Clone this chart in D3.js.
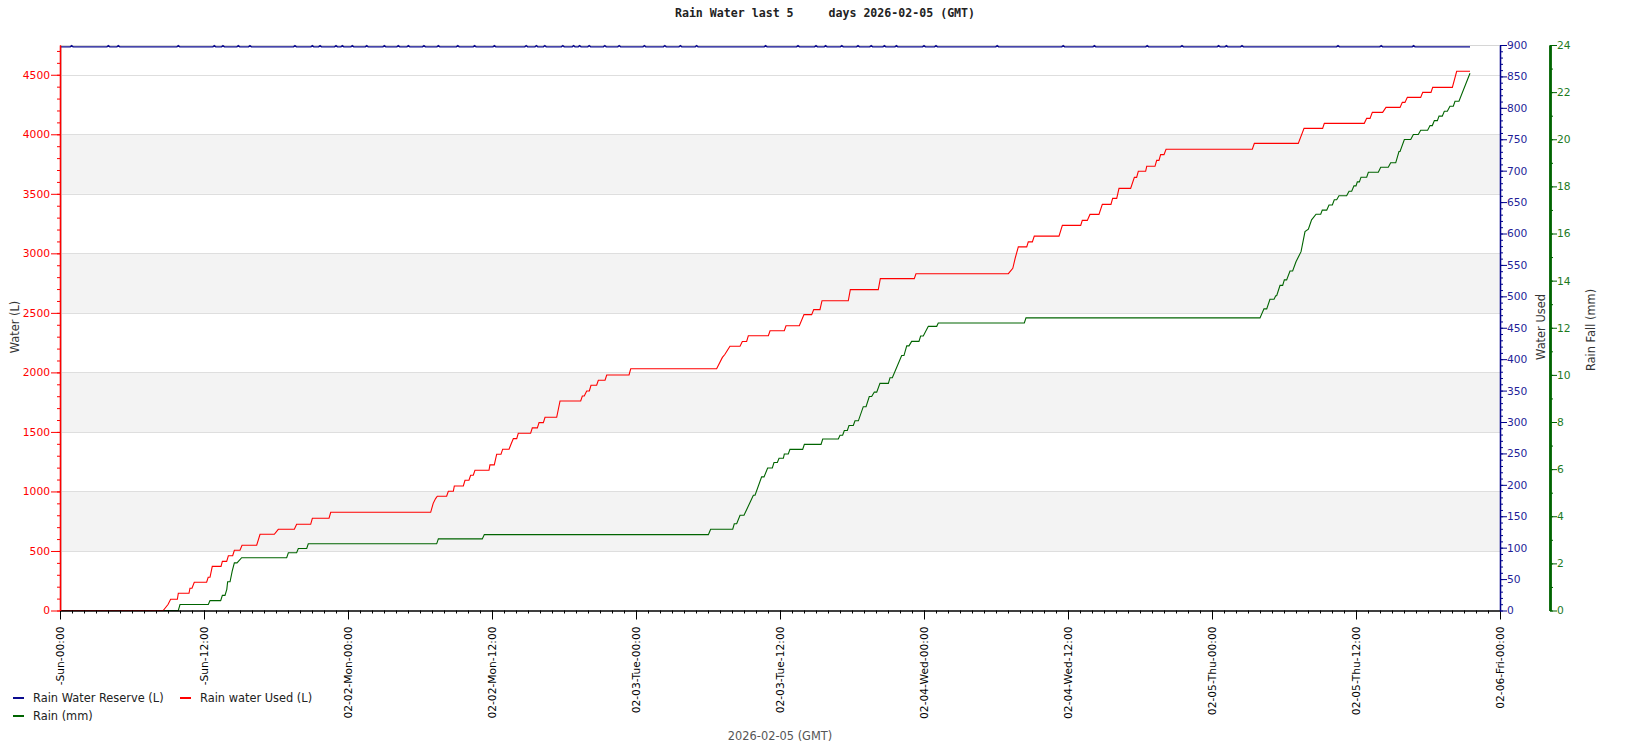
<!DOCTYPE html>
<html><head><meta charset="utf-8">
<script src="https://cdn.jsdelivr.net/npm/d3@7"></script>
<style>
html,body{margin:0;padding:0;background:#fff;}
svg{display:block;font-family:"DejaVu Sans",sans-serif;}
</style></head>
<body><svg id="c" width="1650" height="750"></svg>
<script>
// ---------- data (hours since 2026-02-01 00:00 GMT) ----------
const xTickHours = [0,12,24,36,48,60,72,84,96,108,120];
const xTickLabels = ["-Sun-00:00","-Sun-12:00","02-02-Mon-00:00","02-02-Mon-12:00","02-03-Tue-00:00","02-03-Tue-12:00","02-04-Wed-00:00","02-04-Wed-12:00","02-05-Thu-00:00","02-05-Thu-12:00","02-06-Fri-00:00"];
const leftTicks = [0,500,1000,1500,2000,2500,3000,3500,4000,4500];
const usedTicks = [0,50,100,150,200,250,300,350,400,450,500,550,600,650,700,750,800,850,900];
const rainTicks = [0,2,4,6,8,10,12,14,16,18,20,22,24];
const legendLabels = ["Rain Water Reserve (L)","Rain water Used (L)","Rain (mm)"];

// Rain water used (L) : [hour, litres]
const rainUsed = [[0,0],[8.6,0],[9.0,50],[9.22,94],[9.78,94],[9.86,145],[10.75,145],[10.83,187],[11.0,187],[11.19,237],[12.22,237],[12.35,279],[12.5,279],[12.69,371],[13.42,371],[13.53,413],[13.89,413],[14.03,460],[14.39,460],[14.53,506],[15.0,506],[15.17,548],[16.39,548],[16.67,640],[17.86,640],[18.19,682],[19.53,682],[19.72,724],[20.89,724],[21.03,775],[22.42,775],[22.56,825],[30.89,825],[31.1,900],[31.3,940],[31.44,960],[32.22,960],[32.36,1002],[32.78,1002],[32.86,1046],[33.61,1046],[33.75,1094],[34.08,1094],[34.22,1136],[34.44,1136],[34.58,1178],[35.75,1178],[35.83,1223],[36.19,1223],[36.39,1313],[36.75,1313],[36.89,1355],[37.42,1355],[37.6,1400],[37.78,1444],[38.06,1444],[38.19,1489],[39.22,1489],[39.36,1534],[39.78,1534],[39.92,1578],[40.28,1578],[40.42,1623],[41.39,1623],[41.67,1760],[43.39,1760],[43.53,1802],[43.69,1802],[43.89,1844],[44.11,1844],[44.25,1892],[44.72,1892],[44.86,1934],[45.42,1934],[45.56,1978],[47.42,1978],[47.56,2030],[54.72,2030],[55.2,2126],[55.4,2150],[55.83,2219],[56.67,2219],[56.86,2260],[57.22,2260],[57.36,2308],[59.03,2308],[59.17,2350],[60.36,2350],[60.5,2392],[61.61,2392],[62.0,2485],[62.64,2485],[62.81,2527],[63.33,2527],[63.5,2602],[65.69,2602],[65.86,2695],[68.19,2695],[68.36,2788],[71.19,2788],[71.33,2829],[79.03,2829],[79.4,2874],[79.6,2960],[79.86,3054],[80.56,3054],[80.69,3096],[81.03,3096],[81.19,3145],[83.25,3145],[83.53,3235],[85.06,3235],[85.19,3277],[85.61,3277],[85.83,3327],[86.58,3327],[86.86,3411],[87.58,3411],[87.72,3462],[88.06,3462],[88.25,3546],[89.22,3546],[89.53,3638],[89.72,3638],[89.86,3689],[90.47,3689],[90.56,3731],[91.25,3731],[91.39,3781],[91.58,3781],[91.72,3829],[92.0,3829],[92.17,3874],[99.36,3874],[99.53,3924],[103.19,3924],[103.67,4050],[105.22,4050],[105.36,4092],[108.69,4092],[108.89,4134],[109.17,4134],[109.36,4184],[110.22,4184],[110.5,4226],[111.67,4226],[111.86,4268],[112.08,4268],[112.28,4310],[113.39,4310],[113.56,4352],[114.25,4352],[114.39,4394],[116.03,4394],[116.39,4529],[117.5,4529]];

// Rain (mm) : [hour, mm]
const rainMm = [[0,0],[9.86,0],[10.0,0.255],[12.36,0.255],[12.5,0.42],[13.39,0.42],[13.53,0.64],[13.75,0.64],[13.9,0.9],[13.97,1.22],[14.17,1.22],[14.35,1.67],[14.53,2.02],[14.75,2.02],[15.14,2.24],[18.89,2.24],[19.03,2.45],[19.72,2.45],[19.86,2.63],[20.56,2.63],[20.69,2.83],[31.39,2.83],[31.53,3.04],[35.19,3.04],[35.36,3.22],[54.03,3.22],[54.22,3.45],[56.06,3.45],[56.19,3.68],[56.39,3.68],[56.67,4.04],[57.0,4.04],[57.78,4.89],[57.92,4.89],[58.47,5.67],[58.67,5.67],[58.97,6.05],[59.36,6.05],[59.5,6.28],[59.78,6.28],[59.92,6.46],[60.28,6.46],[60.36,6.64],[60.69,6.64],[60.83,6.84],[61.89,6.84],[62.03,7.05],[63.42,7.05],[63.56,7.28],[64.86,7.28],[65.0,7.44],[65.22,7.44],[65.36,7.64],[65.61,7.64],[65.75,7.85],[66.11,7.85],[66.25,8.05],[66.53,8.05],[66.94,8.65],[67.17,8.65],[67.44,9.08],[67.64,9.08],[67.86,9.27],[68.06,9.27],[68.33,9.64],[69.03,9.64],[69.17,9.88],[69.36,9.88],[70.14,10.82],[70.33,10.82],[70.56,11.23],[70.75,11.23],[70.97,11.42],[71.58,11.42],[71.72,11.65],[71.94,11.65],[72.36,12.06],[73.06,12.06],[73.19,12.2],[80.36,12.2],[80.5,12.42],[100.0,12.42],[100.33,12.8],[100.56,12.8],[100.83,13.21],[101.17,13.21],[101.31,13.36],[101.39,13.36],[101.67,13.8],[101.89,13.8],[102.03,14.03],[102.22,14.03],[102.5,14.41],[102.72,14.41],[103.0,14.8],[103.42,15.23],[103.75,16.08],[104.03,16.18],[104.3,16.58],[104.67,16.82],[105.06,16.82],[105.19,16.99],[105.56,16.99],[105.75,17.21],[106.03,17.21],[106.19,17.43],[106.39,17.43],[106.58,17.6],[107.22,17.6],[107.42,17.79],[107.64,17.79],[107.83,18.02],[108.0,18.02],[108.11,18.19],[108.28,18.19],[108.42,18.39],[108.89,18.39],[109.03,18.6],[109.86,18.6],[110.06,18.81],[110.69,18.81],[110.89,19.0],[111.31,19.0],[111.58,19.48],[111.67,19.48],[112.03,19.99],[112.56,19.99],[112.78,20.2],[113.19,20.2],[113.39,20.38],[113.97,20.38],[114.17,20.58],[114.36,20.58],[114.53,20.79],[114.78,20.79],[114.92,20.98],[115.19,20.98],[115.36,21.19],[115.61,21.19],[115.83,21.4],[116.11,21.4],[116.25,21.61],[116.58,21.61],[117.5,22.8]];

// Rain water reserve : steady level with short blips (hours at which blips occur)
const reserveLevel = 897;
const reserveBlipLevel = 899;
const reserveEnd = 117.5;
const reserveBlipHours = [0.97,4.03,4.86,9.86,12.86,13.58,14.86,15.83,19.58,21.03,21.67,23.0,23.53,24.36,25.56,27.03,28.19,29.03,30.33,31.53,33.15,34.55,36.2,38.85,39.7,40.4,41.9,42.8,43.3,44.1,45.4,46.6,48.7,50.4,51.7,53.05,58.8,61.5,63.0,63.8,65.15,66.5,67.6,68.7,69.7,72.0,73.0,78.1,83.6,86.2,90.6,93.5,96.55,97.2,98.5,106.5,110.1,112.8];

// ---------- layout ----------
const L = 60, R = 1500, T = 45, B = 610.5;
const svg = d3.select("#c");

const x = d3.scaleLinear().domain([0,120]).range([L,R]);
const yL = d3.scaleLinear().domain([0,4750]).range([B,T]);
const yB = d3.scaleLinear().domain([0,900]).range([B,T]);
const yG = d3.scaleLinear().domain([0,24]).range([B,T]);

// background bands
const bands = [[500,1000],[1500,2000],[2500,3000],[3500,4000]];
svg.append("g").selectAll("rect").data(bands).join("rect")
  .attr("x", L).attr("width", R-L)
  .attr("y", d=>yL(d[1])).attr("height", d=>yL(d[0])-yL(d[1]))
  .attr("fill","#f3f3f3");
// grid
svg.append("g").selectAll("line").data(leftTicks.slice(1)).join("line")
  .attr("x1",L).attr("x2",R)
  .attr("y1",d=>Math.round(yL(d))+0.5).attr("y2",d=>Math.round(yL(d))+0.5)
  .attr("stroke","#dedede").attr("stroke-width",1);
// frame
svg.append("line").attr("x1",L).attr("x2",R).attr("y1",T+0.5).attr("y2",T+0.5).attr("stroke","#d6d6d6");
svg.append("line").attr("x1",L+1.5).attr("x2",L+1.5).attr("y1",T).attr("y2",B).attr("stroke","#d6d6d6");

// series
const reserve = [[0,reserveLevel]];
reserveBlipHours.forEach(h=>{reserve.push([h-0.12,reserveLevel],[h,reserveBlipLevel],[h+0.12,reserveLevel]);});
reserve.push([reserveEnd,reserveLevel]);

svg.append("path").datum(reserve)
  .attr("d", d3.line().x(d=>x(d[0])).y(d=>yB(d[1])))
  .attr("fill","none").attr("stroke","#0b0b8f").attr("stroke-width",1.4);
svg.append("path").datum(rainMm)
  .attr("d", d3.line().x(d=>x(d[0])).y(d=>yG(d[1])))
  .attr("fill","none").attr("stroke","#006400").attr("stroke-width",1.1);
svg.append("path").datum(rainUsed)
  .attr("d", d3.line().x(d=>x(d[0])).y(d=>yL(d[1])))
  .attr("fill","none").attr("stroke","#ff0000").attr("stroke-width",1.1);

const FS = "10.7px";
const FS2 = "11.4px";
function styleAxis(g, color, width){
  g.select(".domain").attr("stroke",color).attr("stroke-width",width||1);
  g.selectAll(".tick line").attr("stroke",color);
  g.selectAll(".tick text").attr("fill",color).style("font-size",FS).style("font-family","DejaVu Sans");
}

// x axis
const xMinor = svg.append("g").attr("transform",`translate(0,${B})`)
  .call(d3.axisBottom(x).tickValues(d3.range(0,121,1)).tickSize(3).tickSizeOuter(0).tickFormat(""));
styleAxis(xMinor,"#000");
const xMajor = svg.append("g").attr("transform",`translate(0,${B})`)
  .call(d3.axisBottom(x).tickValues(xTickHours).tickSize(9).tickSizeOuter(0).tickFormat((d,i)=>xTickLabels[i]));
styleAxis(xMajor,"#000");
xMajor.selectAll(".tick text")
  .attr("transform","rotate(-90)")
  .attr("text-anchor","end")
  .attr("x",-16).attr("y",0).attr("dy","0.36em")
  .attr("fill","#000");

// left axis
const lMinor = svg.append("g").attr("transform",`translate(${L},0)`)
  .call(d3.axisLeft(yL).tickValues(d3.range(0,4751,100)).tickSize(3).tickSizeOuter(0).tickFormat(""));
styleAxis(lMinor,"#ff0000",1.3);
const lMajor = svg.append("g").attr("transform",`translate(${L},0)`)
  .call(d3.axisLeft(yL).tickValues(leftTicks).tickSize(9).tickSizeOuter(0).tickPadding(1).tickFormat(d3.format("d")));
styleAxis(lMajor,"#ff0000",1.3);

// blue axis
const bMinor = svg.append("g").attr("transform",`translate(${R},0)`)
  .call(d3.axisRight(yB).tickValues(d3.range(0,901,10)).tickSize(3).tickSizeOuter(0).tickFormat(""));
styleAxis(bMinor,"#00008b",1.3);
const bMajor = svg.append("g").attr("transform",`translate(${R},0)`)
  .call(d3.axisRight(yB).tickValues(usedTicks).tickSize(7).tickSizeOuter(0).tickPadding(0).tickFormat(d3.format("d")));
styleAxis(bMajor,"#00008b",1.3);
bMajor.selectAll(".tick text").attr("fill","#1f1f99");

// green axis
const GX = 1550;
const gMinor = svg.append("g").attr("transform",`translate(${GX},0)`)
  .call(d3.axisRight(yG).tickValues(d3.range(0,25,1)).tickSize(3).tickSizeOuter(0).tickFormat(""));
styleAxis(gMinor,"#006400",2.4);
const gMajor = svg.append("g").attr("transform",`translate(${GX},0)`)
  .call(d3.axisRight(yG).tickValues(rainTicks).tickSize(7).tickSizeOuter(0).tickPadding(0).tickFormat(d3.format("d")));
styleAxis(gMajor,"#006400",2.4);
gMajor.selectAll(".tick text").attr("fill","#1d7a1d");

// title
svg.append("text").attr("x",825).attr("y",17).attr("text-anchor","middle")
  .style("font-family","DejaVu Sans Mono").style("font-weight","bold").style("font-size","11.6px")
  .style("white-space","pre").attr("fill","#222")
  .text("Rain Water last 5     days 2026-02-05 (GMT)");

// axis titles
function vtitle(xp, yp, t){
  svg.append("text").attr("transform",`translate(${xp},${yp}) rotate(-90)`)
    .attr("text-anchor","middle").attr("dy","0.35em")
    .style("font-size",FS2).attr("fill","#333").text(t);
}
vtitle(15, 327, "Water (L)");
vtitle(1541, 327, "Water Used");
vtitle(1591, 330, "Rain Fall (mm)");

// bottom label
svg.append("text").attr("x",780).attr("y",740).attr("text-anchor","middle")
  .style("font-size",FS2).attr("fill","#555").text("2026-02-05 (GMT)");

// legend
const legColors = ["#0b0b8f","#ff0000","#006400"];
const legPos = [[13,698],[180,698],[13,716]];
const lg = svg.append("g");
legendLabels.forEach((t,i)=>{
  const [lx,ly] = legPos[i];
  lg.append("rect").attr("x",lx).attr("y",ly-1).attr("width",11).attr("height",2).attr("fill",legColors[i]);
  lg.append("text").attr("x",lx+20).attr("y",ly).attr("dy","0.35em")
    .style("font-size",FS2).attr("fill","#222").text(t);
});
</script></body></html>
